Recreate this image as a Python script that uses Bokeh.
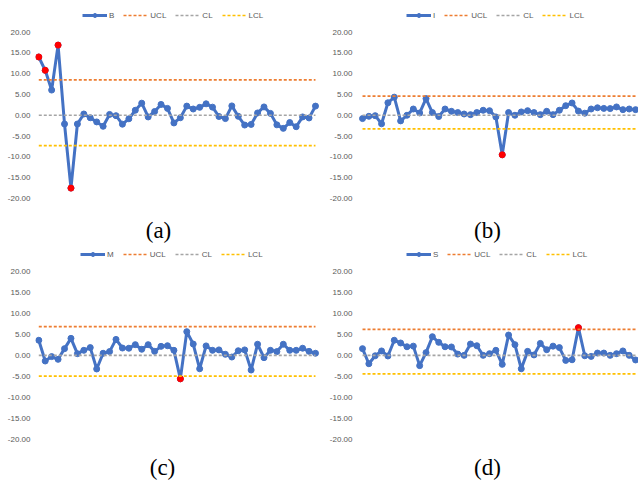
from bokeh.plotting import figure
from bokeh.layouts import gridplot
from bokeh.models import (Legend, LegendItem, Label, FixedTicker,
                          NumeralTickFormatter, Range1d)
from bokeh.embed import file_html
from bokeh.resources import INLINE

# ---------------- data ----------------
series_names = ["B", "I", "M", "S"]
captions = ["(a)", "(b)", "(c)", "(d)"]

B = [14.0, 10.8, 6.05, 16.85, -2.1, -17.5, -2.1, 0.3, -0.6, -1.6, -2.65, 0.2, -0.1, -2.15,
     -0.85, 1.2, 2.9, -0.4, 0.9, 2.6, 1.65, -1.85, -0.6, 2.2, 1.5, 1.9, 2.75, 1.95, -0.3,
     -0.8, 2.25, -0.25, -2.35, -2.2, 0.55, 2.0, 0.45, -2.3, -3.15, -1.75, -2.75, -0.4, -0.65, 2.2]
I = [-0.8, -0.25, -0.1, -2.05, 3.0, 4.35, -1.35, 0.0, 1.5, 0.55, 4.0, 0.65, -0.3, 1.5,
     0.95, 0.65, 0.3, 0.15, 0.65, 1.2, 1.1, -0.4, -9.5, 0.65, 0.0, 0.8, 1.1, 0.65, 0.15,
     0.95, 0.15, 1.2, 2.3, 2.95, 1.0, 0.5, 1.5, 1.8, 1.65, 1.6, 2.0, 1.35, 1.5, 1.35]
M = [3.6, -1.35, -0.3, -0.95, 1.6, 4.05, 0.4, 1.2, 1.85, -3.25, 0.5, 0.9, 3.8, 1.75,
     1.7, 2.55, 1.45, 2.55, 0.95, 2.15, 2.3, 1.2, -5.6, 5.65, 2.7, -3.2, 2.25, 1.2, 1.3,
     0.25, -0.4, 1.1, 1.3, -3.5, 2.65, -0.55, 1.2, 0.9, 2.65, 1.2, 1.2, 1.7, 0.95, 0.5]
S = [1.6, -2.0, -0.1, 1.05, -0.15, 3.6, 2.95, 2.05, 2.2, -2.45, 0.65, 4.45, 3.1, 2.05,
     2.0, 0.3, 0.0, 2.7, 2.3, 0.0, 0.4, 1.2, -2.15, 4.85, 2.55, -3.2, 0.95, 0.1, 2.85,
     1.35, 2.2, 1.85, -1.2, -1.05, 6.6, -0.1, -0.25, 0.55, 0.55, 0.0, 0.4, 1.05, 0.0, -1.1]

UCL = [8.5, 4.6, 6.85, 6.2]
CL = [0.0, 0.0, 0.0, 0.0]
LCL = [-7.3, -3.25, -4.95, -4.4]

y_ticks = [20, 15, 10, 5, 0, -5, -10, -15, -20]

series_values = [B, I, M, S]

# ---------------- style ----------------
BLUE = "#4472C4"
ORANGE = "#ED7D31"
GREY = "#A5A5A5"
GOLD = "#FFC000"
RED = "#FF0000"
TXT = "#595959"
FONT = "Liberation Sans"

# layout per panel: width, height, y-range, x-range, legend pos, caption pos
panel_layout = [
    dict(w=322, h=244, y=(-31.05, 27.57), x=(-0.51, 44.09), leg=(47, 224), cap=(123, 14)),
    dict(w=316, h=244, y=(-31.05, 27.57), x=(-0.79, 43.46), leg=(49, 224), cap=(130, 14)),
    dict(w=322, h=242, y=(-31.28, 26.44), x=(-0.51, 44.09), leg=(45, 227), cap=(127, 19)),
    dict(w=316, h=242, y=(-31.28, 26.44), x=(-0.79, 43.46), leg=(49, 227), cap=(130, 19)),
]


def make_panel(k):
    lay = panel_layout[k]
    vals = series_values[k]
    n = len(vals)
    xs = list(range(n))
    p = figure(width=lay["w"], height=lay["h"], output_backend="svg",
               toolbar_location=None, x_axis_location=None,
               x_range=Range1d(*lay["x"]), y_range=Range1d(*lay["y"]),
               min_border=0, min_border_left=35, outline_line_color=None,
               background_fill_color="white", border_fill_color="white")
    p.xgrid.visible = False
    p.ygrid.visible = False
    ax = p.yaxis[0]
    ax.ticker = FixedTicker(ticks=y_ticks)
    ax.formatter = NumeralTickFormatter(format="0.00")
    ax.axis_line_color = None
    ax.major_tick_line_color = None
    ax.minor_tick_line_color = None
    ax.major_tick_out = 0
    ax.major_tick_in = 0
    ax.minor_tick_out = 0
    ax.major_label_standoff = 5
    ax.major_label_text_font = FONT
    ax.major_label_text_font_size = "8px"
    ax.major_label_text_color = TXT

    line_r = p.line(xs, vals, line_color=BLUE, line_width=3)
    mark_r = p.scatter(xs, vals, size=6, marker="circle", fill_color=BLUE, line_color=BLUE)

    ox = [x for x, v in zip(xs, vals) if v > UCL[k] or v < LCL[k]]
    oy = [v for v in vals if v > UCL[k] or v < LCL[k]]
    p.scatter(ox, oy, size=6, marker="circle", fill_color=RED, line_color=RED)

    ucl_r = p.line(xs, [UCL[k]] * n, line_color=ORANGE, line_width=1.7, line_dash="3 2")
    cl_r = p.line(xs, [CL[k]] * n, line_color=GREY, line_width=1.7, line_dash="3 2")
    lcl_r = p.line(xs, [LCL[k]] * n, line_color=GOLD, line_width=1.7, line_dash="3 2")

    legend = Legend(items=[
        LegendItem(label=series_names[k], renderers=[line_r, mark_r]),
        LegendItem(label="UCL", renderers=[ucl_r]),
        LegendItem(label="CL", renderers=[cl_r]),
        LegendItem(label="LCL", renderers=[lcl_r]),
    ], orientation="horizontal", location=lay["leg"],
        glyph_width=25, glyph_height=10, label_width=0, label_height=10,
        label_standoff=2, spacing=9, padding=0, margin=0,
        border_line_color=None, background_fill_alpha=0,
        label_text_font=FONT, label_text_font_size="8px", label_text_color=TXT)
    p.add_layout(legend)

    cap = Label(x=lay["cap"][0], y=lay["cap"][1], x_units="screen", y_units="screen",
                text=captions[k], text_font="Liberation Serif", text_font_size="23px",
                text_align="center", text_baseline="middle", text_color="black")
    p.add_layout(cap)
    return p


panels = [make_panel(k) for k in range(4)]
grid = gridplot([[panels[0], panels[1]], [panels[2], panels[3]]], toolbar_location=None)

open("out.html", "w").write(file_html(grid, INLINE))
